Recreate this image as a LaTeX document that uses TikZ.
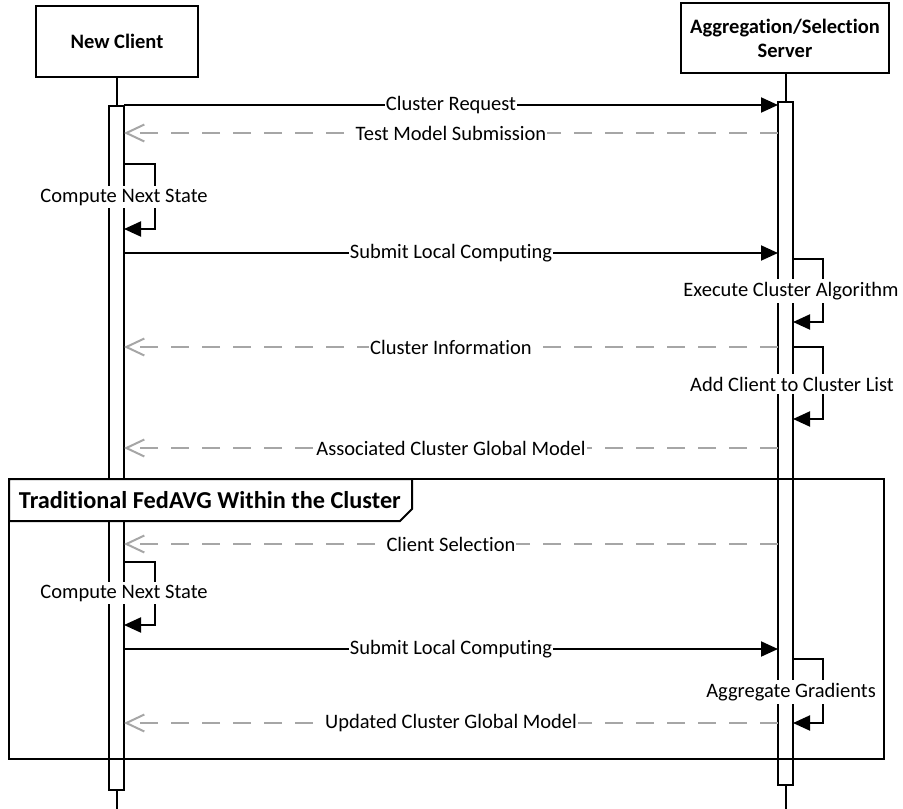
\documentclass[tikz,border=0pt]{standalone}
\usepackage{fontspec}
\setmainfont{Carlito}[Ligatures=NoCommon]
\usetikzlibrary{positioning,arrows.meta}

\definecolor{replygray}{HTML}{A6A6A6}

\begin{document}
\begin{tikzpicture}[x=1pt, y=-1pt, line width=2pt,
     font=\fontsize{20.5}{24}\selectfont,
     headbox/.style = {draw=black, fill=white, font=\fontsize{20.5}{24}\selectfont\bfseries, align=center},
     actbar/.style = {draw=black, fill=white},
     call/.style = {draw=black, -{Triangle[length=17pt,width=15pt]}},
     reply/.style = {draw=replygray, dash pattern=on 18pt off 13pt, -{Straight Barb[length=18pt,width=17pt,line width=2pt]}},
     msg/.style = {fill=white, inner xsep=1pt, inner ysep=2pt},
     selflabel/.style = {fill=white, inner xsep=1pt, inner ysep=3pt}]
     \useasboundingbox (0,0) rectangle (903,809);

     % participants
     \node[headbox, minimum width=162pt, minimum height=71pt] (client) at (117,41.5) {New Client};
     \node[headbox, minimum width=208pt, minimum height=70pt] (server) at (785,38) {Aggregation/Selection\\Server};
     \coordinate (clientend) at (117,809);
     \coordinate (serverend) at (785.5,809);
     \draw (client) -- (clientend);
     \draw (server.south -| serverend) -- (serverend);

     % activation bars
     \draw[actbar] (109,106) rectangle (124,790);
     \draw[actbar] (778,102) rectangle (793,785);

     % frame
     \coordinate (frametl) at (9,479);
     \coordinate (framebr) at (884,759);
     \draw (frametl) rectangle (framebr);
     \draw[fill=white] (frametl) -- (412,479) -- (412,509) -- (400,521) -- (9,521) -- cycle;
     \node[font=\fontsize{24.3}{28}\selectfont\bfseries, anchor=west, inner sep=0pt] (frametitle) at (18,500) {Traditional FedAVG Within the Cluster};

     % message ends
     \coordinate (c1) at (124,105);  \coordinate (s1) at (778,105);
     \coordinate (c2) at (124,133);  \coordinate (s2) at (778,133);
     \coordinate (c3) at (124,164);  \coordinate (c3b) at (124,229);
     \coordinate (c4) at (124,253);  \coordinate (s4) at (778,253);
     \coordinate (s5) at (793,259);  \coordinate (s5b) at (793,322);
     \coordinate (c6) at (124,347);  \coordinate (s6) at (778,347);
     \coordinate (s7) at (793,347);  \coordinate (s7b) at (793,419);
     \coordinate (c8) at (124,448);  \coordinate (s8) at (778,448);
     \coordinate (c9) at (124,544);  \coordinate (s9) at (778,544);
     \coordinate (c10) at (124,562); \coordinate (c10b) at (124,625);
     \coordinate (c11) at (124,649); \coordinate (s11) at (778,649);
     \coordinate (s12) at (793,659); \coordinate (s12b) at (793,723);
     \coordinate (c13) at (124,723); \coordinate (s13) at (778,723);

     % messages
     \draw[call] (c1) -- node[msg] (m1) {Cluster Request} (s1);
     \draw[reply] (s2) -- node[msg] (m2) {Test Model Submission} (c2);
     \draw[call] (c3) -- ++(31,0) |- (c3b);
     \node[selflabel] (m3) at (124,197) {Compute Next State};
     \draw[call] (c4) -- node[msg] (m4) {Submit Local Computing} (s4);
     \draw[call] (s5) -- ++(30,0) |- (s5b);
     \node[selflabel] (m5) at (791,291) {Execute Cluster Algorithm};
     \draw[reply] (s6) -- node[msg] (m6) {Cluster Information} (c6);
     \draw[call] (s7) -- ++(30,0) |- (s7b);
     \node[selflabel] (m7) at (792,384) {Add Client to Cluster List};
     \draw[reply] (s8) -- node[msg] (m8) {Associated Cluster Global Model} (c8);
     \draw[reply] (s9) -- node[msg] (m9) {Client Selection} (c9);
     \draw[call] (c10) -- ++(31,0) |- (c10b);
     \node[selflabel] (m10) at (124,593) {Compute Next State};
     \draw[call] (c11) -- node[msg] (m11) {Submit Local Computing} (s11);
     \draw[call] (s12) -- ++(30,0) |- (s12b);
     \node[selflabel] (m12) at (791,692) {Aggregate Gradients};
     \draw[reply] (s13) -- node[msg] (m13) {Updated Cluster Global Model} (c13);
\end{tikzpicture}
\end{document}
